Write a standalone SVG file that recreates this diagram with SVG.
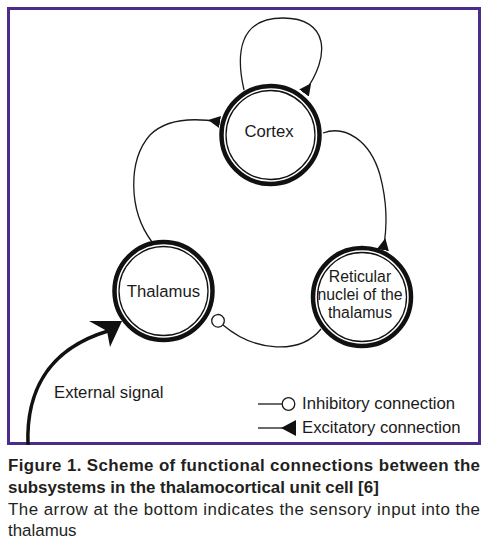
<svg xmlns="http://www.w3.org/2000/svg" width="488" height="547" viewBox="0 0 488 547">
<defs>
<style>
.frame{fill:none;stroke:#4b2c8a;stroke-width:3}
.outer{fill:#fff;stroke:#111;stroke-width:4.5}
.inner{fill:none;stroke:#111;stroke-width:1.3}
.conn{fill:none;stroke:#1a1a1a;stroke-width:1.3}
.ext{fill:none;stroke:#111;stroke-width:3.5}
.lbl{font-family:"Liberation Sans",Arial,sans-serif;font-size:16.7px;fill:#1a1a1a}
.cap{font-family:"Liberation Sans",Arial,sans-serif;font-size:16.9px;fill:#231f20}
.bold{font-weight:bold}
</style>
<marker id="exc" viewBox="0 0 12 12" refX="12" refY="6" markerWidth="12" markerHeight="12" markerUnits="userSpaceOnUse" orient="auto">
<path d="M0,6 L12,0 L12,12 Z" fill="#111"/>
</marker>
<marker id="inh" viewBox="0 0 16 16" refX="1.5" refY="8" markerWidth="16" markerHeight="16" markerUnits="userSpaceOnUse" orient="auto">
<circle cx="8" cy="8" r="6.3" fill="#fff" stroke="#1a1a1a" stroke-width="1.3"/>
</marker>
</defs>
<rect width="488" height="547" fill="#fff"/>
<rect class="frame" x="8.5" y="8.5" width="471" height="435"/>

<g id="connectors">
<path class="conn" d="M244,90 C236,55 238,18 283,18 C328,18 332,55 304,93" marker-end="url(#exc)"/>
<path class="conn" d="M152,242 C128,210 128,160 150,135 C165,120 190,117 220,122" marker-end="url(#exc)"/>
<path class="conn" d="M323,133 C345,125 370,140 380,175 C388,205 387,230 383,250" marker-end="url(#exc)"/>
<path class="conn" d="M321,329 C300,355 255,352 223,325" marker-end="url(#inh)"/>
<path class="ext" d="M28,445 C26,395 45,350 108,331"/>
<polygon points="122,321 89,321 107,331 110,347" fill="#111"/>
</g>

<g id="cortex">
<circle class="outer" cx="270.5" cy="135" r="49"/>
<circle class="inner" cx="270.5" cy="135" r="44.5"/>
<text class="lbl" x="269" y="137" text-anchor="middle">Cortex</text>
</g>

<g id="thalamus">
<circle class="outer" cx="163.5" cy="291" r="49"/>
<circle class="inner" cx="163.5" cy="291" r="44.5"/>
<text class="lbl" x="163.5" y="297" text-anchor="middle">Thalamus</text>
</g>

<g id="reticular">
<circle class="outer" cx="362" cy="297" r="49"/>
<circle class="inner" cx="362" cy="297" r="44.5"/>
<text class="lbl" x="360" y="282" text-anchor="middle" style="font-size:15.8px">Reticular</text>
<text class="lbl" x="360" y="300" text-anchor="middle" style="font-size:15.8px">nuclei of the</text>
<text class="lbl" x="360" y="318" text-anchor="middle" style="font-size:15.8px">thalamus</text>
</g>

<g id="external-label">
<text class="lbl" x="54" y="398">External signal</text>
</g>

<g id="legend">
<line class="conn" x1="258" y1="404" x2="282" y2="404"/>
<circle cx="288.5" cy="404" r="6.3" fill="#fff" stroke="#1a1a1a" stroke-width="1.3"/>
<text class="lbl" x="302" y="409">Inhibitory connection</text>
<line class="conn" x1="258" y1="428" x2="284" y2="428"/>
<polygon points="281,428 296,420 296,436" fill="#111"/>
<text class="lbl" x="302" y="433">Excitatory connection</text>
</g>

<g id="caption">
<text class="cap bold" x="8" y="471" textLength="472" lengthAdjust="spacing">Figure 1. Scheme of functional connections between the</text>
<text class="cap bold" x="8" y="493">subsystems in the thalamocortical unit cell [6]</text>
<text class="cap" x="8" y="515" textLength="472" lengthAdjust="spacing">The arrow at the bottom indicates the sensory input into the</text>
<text class="cap" x="8" y="536">thalamus</text>
</g>
</svg>
